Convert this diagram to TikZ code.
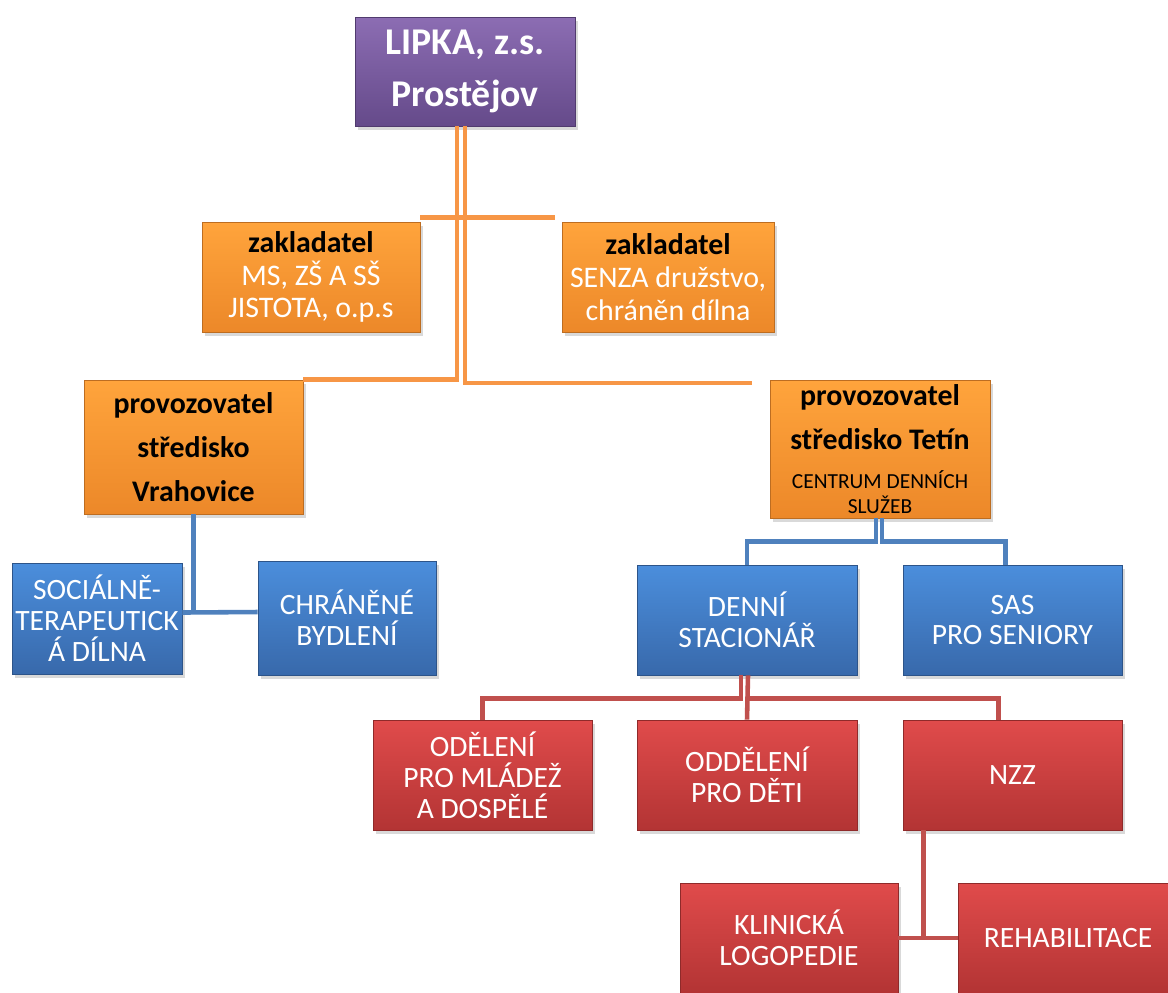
\documentclass[tikz,border=0pt]{standalone}
\usepackage{fontspec}
\setmainfont{Carlito}
\usetikzlibrary{calc,shadows}
\definecolor{violettop}{HTML}{8C6DB3}
\definecolor{violetbot}{HTML}{654A8A}
\definecolor{orangetop}{HTML}{FFA43C}
\definecolor{orangebot}{HTML}{EC8829}
\definecolor{bluetop}{HTML}{4B8EDC}
\definecolor{bluebot}{HTML}{3869AB}
\definecolor{redtop}{HTML}{E04B4B}
\definecolor{redbot}{HTML}{B33434}
\definecolor{orangeline}{HTML}{F79646}
\definecolor{blueline}{HTML}{4F81BD}
\definecolor{redline}{HTML}{C0504D}

\begin{document}
\begin{tikzpicture}[x=0.02cm, y=-0.02cm,
	card/.style={top color=#1top, bottom color=#1bot, draw=#1bot!80!black, line width=.4pt,
		drop shadow={opacity=.3, shadow xshift=.06cm, shadow yshift=-.08cm},
		align=center, inner sep=2pt, minimum width=4.4cm, minimum height=2.2cm},
	lead/.style={card=violet, text=white, font=\fontsize{21.5}{29.5}\selectfont\bfseries},
	founder/.style={card=orange, text=white, font=\fontsize{17}{18.7}\selectfont},
	runner/.style={card=orange, text=black, font=\fontsize{17}{25}\selectfont\bfseries},
	service/.style={card=blue, text=white, font=\fontsize{16.8}{17.6}\selectfont},
	unit/.style={card=red, text=white, font=\fontsize{16.8}{17.6}\selectfont},
	link/.style={line width=2.6pt, color=#1line}]
	\useasboundingbox (0,0) rectangle (1168,992);
	% top
	\node[lead, minimum height=2.18cm] (lipka) at (465,71.5) {LIPKA, z.s.\\Prostějov};
	% founders
	\node[founder, minimum width=4.36cm] (zakL) at (311,277) {\textcolor{black}{\bfseries zakladatel}\\MS, ZŠ A SŠ\\JISTOTA, o.p.s};
	\node[founder, minimum width=4.24cm] (zakR) at (668,277) {\textcolor{black}{\bfseries zakladatel}\\SENZA družstvo,\\chráněn dílna};
	% operators
	\node[runner, minimum width=4.38cm, minimum height=2.68cm] (vrah) at (193.5,447) {provozovatel\\středisko\\Vrahovice};
	\node[runner, minimum height=2.76cm] (tetin) at (880,449) {provozovatel\\středisko Tetín\\[-3pt]{\fontsize{12.2}{14}\selectfont\mdseries CENTRUM DENNÍCH}\\[-11pt]{\fontsize{12.2}{14}\selectfont\mdseries SLUŽEB}};
	% services
	\node[service, minimum width=3.4cm, minimum height=2.22cm, inner sep=0pt] (soc) at (97,618.5) {SOCIÁLNĚ-\\TERAPEUTICK\\Á DÍLNA};
	\node[service, minimum width=3.56cm, minimum height=2.28cm] (chr) at (347,618) {CHRÁNĚNÉ\\BYDLENÍ};
	\node[service] (denni) at (747,620) {DENNÍ\\STACIONÁŘ};
	\node[service, minimum width=4.38cm] (sas) at (1012.5,620) {SAS\\PRO SENIORY};
	% units
	\node[unit, minimum width=4.38cm] (odel) at (482.5,775) {ODĚLENÍ\\PRO MLÁDEŽ\\A DOSPĚLÉ};
	\node[unit] (deti) at (747,775) {ODDĚLENÍ\\PRO DĚTI};
	\node[unit, minimum width=4.38cm] (nzz) at (1012.5,775) {NZZ};
	\node[unit, minimum width=4.36cm] (klin) at (789,938) {KLINICKÁ\\LOGOPEDIE};
	\node[unit] (rehab) at (1068,938) {REHABILITACE};
	\coordinate (tetinIn) at (752,383);
	\coordinate (nzzFoot) at ($(nzz.south west)+(21,0)$);

	% orange links
	\draw[link=orange] ($(lipka.south)+(-8,0)$) |- (vrah.north east);
	\draw[link=orange] (lipka.south) |- (tetinIn);
	\draw[link=orange] ($(zakL.north east)+(0,-4)$) -- ($(zakR.north west)+(-7,-4)$);
	% blue links
	\draw[link=blue] (vrah.south) -- ++(0,98);
	\draw[link=blue] ($(soc.east)+(0,-6)$) -- ($(chr.west)+(0,-6)$);
	\draw[link=blue] ($(tetin.south)+(-4,0)$) -- ++(0,23) -| (denni.north);
	\draw[link=blue] ($(tetin.south)+(2,0)$) -- ++(0,23) -| ($(sas.north)+(-7,0)$);
	% red links
	\draw[link=red] ($(denni.south)+(-6,0)$) -- ++(0,23) -| (odel.north);
	\draw[link=red] ($(denni.south)+(1,0)$) -- (deti.north);
	\draw[link=red] ($(denni.south)+(1,23)$) -| ($(nzz.north)+(-14,0)$);
	\draw[link=red] (nzzFoot) -- (nzzFoot |- klin.east);
	\draw[link=red] (klin.east) -- (rehab.west);
\end{tikzpicture}
\end{document}
